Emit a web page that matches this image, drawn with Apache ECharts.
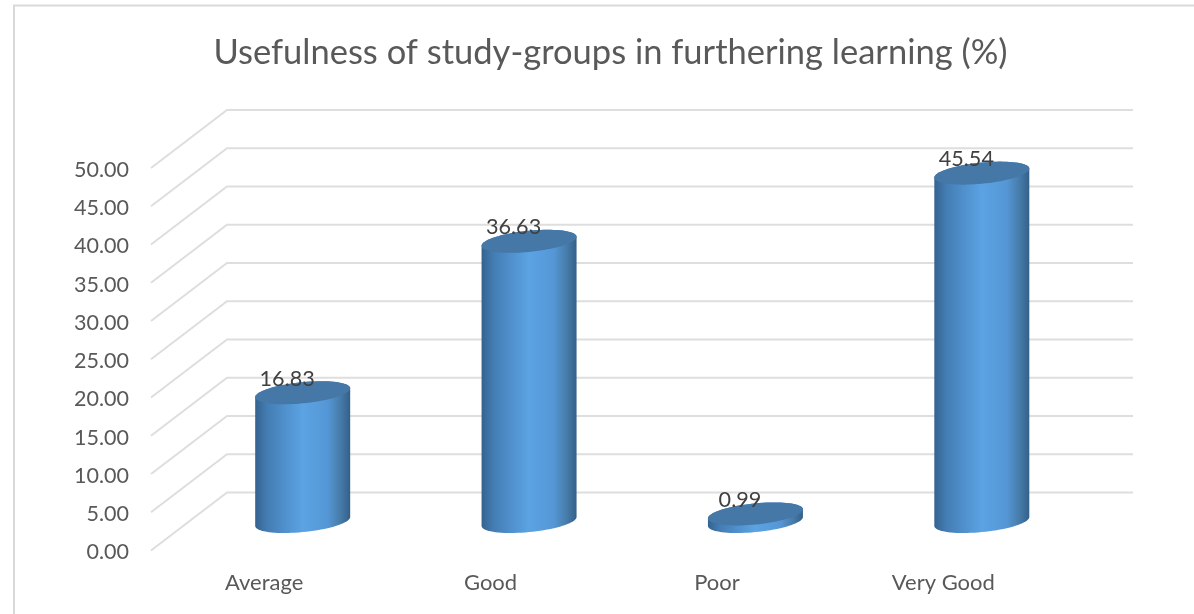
<!DOCTYPE html>
<html><head><meta charset="utf-8">
<style>html,body{margin:0;padding:0;background:#fff}#c{width:1194px;height:614px}</style>
<script src="https://cdn.jsdelivr.net/npm/echarts@6/dist/echarts.min.js"></script>
</head><body><div id="c"></div>
<script>
const titleText = 'Usefulness of study-groups in furthering learning (%)';
const categories = ['Average', 'Good', 'Poor', 'Very Good'];
const values = [16.83, 36.63, 0.99, 45.54];
const tickValues = [0, 5, 10, 15, 20, 25, 30, 35, 40, 45, 50];

const FONT = 'Lato';
const depthX = 76, depthY = -58;
const midX = 38.5, midY = -29, rx = 47.5, ry = 10.6, skew = 4.5;

function ellipsePts(cx, cy, from, to, n) {
  const pts = [];
  for (let i = 0; i <= n; i++) {
    const t = from + (to - from) * i / n;
    pts.push([cx + rx * Math.cos(t), cy - skew * Math.cos(t) + ry * Math.sin(t)]);
  }
  return pts;
}
const bodyGrad = {
  type: 'linear', x: 0, y: 0, x2: 1, y2: 0,
  colorStops: [
    { offset: 0, color: '#35628f' },
    { offset: 0.12, color: '#437cb2' },
    { offset: 0.3, color: '#4f8fcb' },
    { offset: 0.5, color: '#5ba3e3' },
    { offset: 0.76, color: '#5597d6' },
    { offset: 0.9, color: '#467ba8' },
    { offset: 1, color: '#33608a' }
  ]
};

const chart = echarts.init(document.getElementById('c'), null, { renderer: 'canvas' });
chart.setOption({
  animation: false,
  backgroundColor: '#fff',
  title: {
    text: titleText, left: 605.5, top: 30, textAlign: 'center',
    textStyle: { fontFamily: FONT, fontSize: 34.5, fontWeight: 'normal', color: '#595959' }
  },
  graphic: [{
    type: 'polyline', silent: true,
    shape: { points: [[14, 614], [14, 5.5], [1194, 5.5]] },
    style: { stroke: '#d9d9d9', lineWidth: 2, fill: null }
  }],
  grid: { left: 151, right: 137.5, top: 168, bottom: 63.5 },
  xAxis: {
    type: 'category', data: categories,
    axisLine: { show: false }, axisTick: { show: false },
    axisLabel: { margin: 21, fontFamily: FONT, fontSize: 22, color: '#595959' }
  },
  yAxis: {
    type: 'value', min: 0, max: 50, interval: 5,
    axisLine: { show: false }, axisTick: { show: false }, splitLine: { show: false },
    axisLabel: { margin: 22, fontFamily: FONT, fontSize: 21.5, color: '#595959',
      verticalAlign: 'top', lineHeight: 4, formatter: v => v.toFixed(2) }
  },
  series: [
    {
      type: 'custom', silent: true, z: 1,
      data: tickValues.map(v => [0, v]),
      renderItem(params, api) {
        const sys = params.coordSys;
        const y = api.coord([0, api.value(1)])[1];
        const x0 = sys.x, x1 = sys.x + depthX, x2 = sys.x + sys.width + depthX + 0.5, yb = y + depthY;
        return {
          type: 'polyline',
          shape: { points: [[x0, y], [x1, yb], [x2, yb]] },
          style: { stroke: '#dedede', lineWidth: 2, fill: null }
        };
      }
    },
    {
      type: 'custom', silent: true, z: 2,
      data: values.map((v, i) => [i, v]),
      renderItem(params, api) {
        const idx = api.value(0), v = api.value(1);
        const top = api.coord([idx, v]), base = api.coord([idx, 0]);
        const cx = top[0] + midX, cyT = top[1] + midY, cyB = base[1] + midY;
        const bottomArc = ellipsePts(cx, cyB, 0, Math.PI, 40);
        const topBack = ellipsePts(cx, cyT, Math.PI, 2 * Math.PI, 40);
        return {
          type: 'group',
          children: [
            { type: 'polygon', shape: { points: bottomArc.concat(topBack) }, style: { fill: bodyGrad } },
            { type: 'polygon', shape: { points: ellipsePts(cx, cyT, 0, 2 * Math.PI, 80) }, style: { fill: '#4577a7' } },
            { type: 'text', style: {
                x: cx - 15.5, y: cyT - 14, text: v.toFixed(2), align: 'center', verticalAlign: 'middle',
                fontFamily: FONT, fontSize: 21.6, fill: '#404040' } }
          ]
        };
      }
    }
  ]
});
</script></body></html>
